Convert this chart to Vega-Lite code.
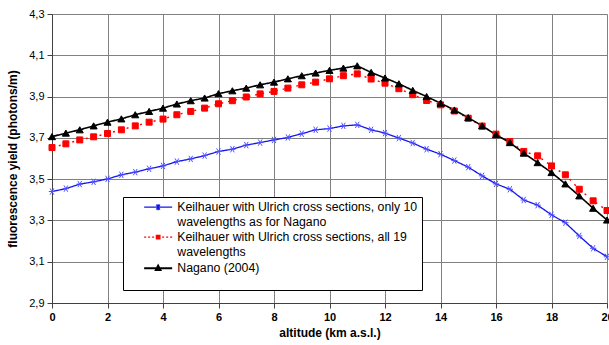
{
  "$schema": "https://vega.github.io/schema/vega-lite/v6.json",
  "autosize": "none",
  "width": 555,
  "height": 289,
  "padding": {"left": 52, "top": 14, "right": 2, "bottom": 42},
  "background": "white",
  "config": {
    "view": {"stroke": null},
    "font": "Liberation Sans"
  },
  "data": {"values": [
    {"alt": 0, "series": "K10", "y": 3.440}, {"alt": 0.5, "series": "K10", "y": 3.454}, {"alt": 1, "series": "K10", "y": 3.476}, {"alt": 1.5, "series": "K10", "y": 3.487}, {"alt": 2, "series": "K10", "y": 3.501}, {"alt": 2.5, "series": "K10", "y": 3.521}, {"alt": 3, "series": "K10", "y": 3.534}, {"alt": 3.5, "series": "K10", "y": 3.550}, {"alt": 4, "series": "K10", "y": 3.564}, {"alt": 4.5, "series": "K10", "y": 3.585}, {"alt": 5, "series": "K10", "y": 3.598}, {"alt": 5.5, "series": "K10", "y": 3.614}, {"alt": 6, "series": "K10", "y": 3.634}, {"alt": 6.5, "series": "K10", "y": 3.645}, {"alt": 7, "series": "K10", "y": 3.665}, {"alt": 7.5, "series": "K10", "y": 3.677}, {"alt": 8, "series": "K10", "y": 3.690}, {"alt": 8.5, "series": "K10", "y": 3.702}, {"alt": 9, "series": "K10", "y": 3.720}, {"alt": 9.5, "series": "K10", "y": 3.739}, {"alt": 10, "series": "K10", "y": 3.745}, {"alt": 10.5, "series": "K10", "y": 3.758}, {"alt": 11, "series": "K10", "y": 3.763}, {"alt": 11.5, "series": "K10", "y": 3.739}, {"alt": 12, "series": "K10", "y": 3.723}, {"alt": 12.5, "series": "K10", "y": 3.699}, {"alt": 13, "series": "K10", "y": 3.675}, {"alt": 13.5, "series": "K10", "y": 3.645}, {"alt": 14, "series": "K10", "y": 3.621}, {"alt": 14.5, "series": "K10", "y": 3.590}, {"alt": 15, "series": "K10", "y": 3.558}, {"alt": 15.5, "series": "K10", "y": 3.516}, {"alt": 16, "series": "K10", "y": 3.477}, {"alt": 16.5, "series": "K10", "y": 3.451}, {"alt": 17, "series": "K10", "y": 3.399}, {"alt": 17.5, "series": "K10", "y": 3.374}, {"alt": 18, "series": "K10", "y": 3.327}, {"alt": 18.5, "series": "K10", "y": 3.289}, {"alt": 19, "series": "K10", "y": 3.225}, {"alt": 19.5, "series": "K10", "y": 3.165}, {"alt": 20, "series": "K10", "y": 3.124},
    {"alt": 0, "series": "K19", "y": 3.653}, {"alt": 0.5, "series": "K19", "y": 3.671}, {"alt": 1, "series": "K19", "y": 3.690}, {"alt": 1.5, "series": "K19", "y": 3.705}, {"alt": 2, "series": "K19", "y": 3.721}, {"alt": 2.5, "series": "K19", "y": 3.739}, {"alt": 3, "series": "K19", "y": 3.758}, {"alt": 3.5, "series": "K19", "y": 3.776}, {"alt": 4, "series": "K19", "y": 3.791}, {"alt": 4.5, "series": "K19", "y": 3.812}, {"alt": 5, "series": "K19", "y": 3.828}, {"alt": 5.5, "series": "K19", "y": 3.844}, {"alt": 6, "series": "K19", "y": 3.865}, {"alt": 6.5, "series": "K19", "y": 3.880}, {"alt": 7, "series": "K19", "y": 3.898}, {"alt": 7.5, "series": "K19", "y": 3.913}, {"alt": 8, "series": "K19", "y": 3.925}, {"alt": 8.5, "series": "K19", "y": 3.941}, {"alt": 9, "series": "K19", "y": 3.957}, {"alt": 9.5, "series": "K19", "y": 3.970}, {"alt": 10, "series": "K19", "y": 3.986}, {"alt": 10.5, "series": "K19", "y": 4.001}, {"alt": 11, "series": "K19", "y": 4.010}, {"alt": 11.5, "series": "K19", "y": 3.985}, {"alt": 12, "series": "K19", "y": 3.965}, {"alt": 12.5, "series": "K19", "y": 3.938}, {"alt": 13, "series": "K19", "y": 3.909}, {"alt": 13.5, "series": "K19", "y": 3.881}, {"alt": 14, "series": "K19", "y": 3.860}, {"alt": 14.5, "series": "K19", "y": 3.830}, {"alt": 15, "series": "K19", "y": 3.795}, {"alt": 15.5, "series": "K19", "y": 3.757}, {"alt": 16, "series": "K19", "y": 3.718}, {"alt": 16.5, "series": "K19", "y": 3.682}, {"alt": 17, "series": "K19", "y": 3.634}, {"alt": 17.5, "series": "K19", "y": 3.613}, {"alt": 18, "series": "K19", "y": 3.564}, {"alt": 18.5, "series": "K19", "y": 3.521}, {"alt": 19, "series": "K19", "y": 3.451}, {"alt": 19.5, "series": "K19", "y": 3.395}, {"alt": 20, "series": "K19", "y": 3.348},
    {"alt": 0, "series": "Nagano", "y": 3.706}, {"alt": 0.5, "series": "Nagano", "y": 3.723}, {"alt": 1, "series": "Nagano", "y": 3.739}, {"alt": 1.5, "series": "Nagano", "y": 3.758}, {"alt": 2, "series": "Nagano", "y": 3.776}, {"alt": 2.5, "series": "Nagano", "y": 3.792}, {"alt": 3, "series": "Nagano", "y": 3.812}, {"alt": 3.5, "series": "Nagano", "y": 3.828}, {"alt": 4, "series": "Nagano", "y": 3.844}, {"alt": 4.5, "series": "Nagano", "y": 3.864}, {"alt": 5, "series": "Nagano", "y": 3.880}, {"alt": 5.5, "series": "Nagano", "y": 3.893}, {"alt": 6, "series": "Nagano", "y": 3.914}, {"alt": 6.5, "series": "Nagano", "y": 3.928}, {"alt": 7, "series": "Nagano", "y": 3.941}, {"alt": 7.5, "series": "Nagano", "y": 3.957}, {"alt": 8, "series": "Nagano", "y": 3.970}, {"alt": 8.5, "series": "Nagano", "y": 3.986}, {"alt": 9, "series": "Nagano", "y": 4.001}, {"alt": 9.5, "series": "Nagano", "y": 4.014}, {"alt": 10, "series": "Nagano", "y": 4.027}, {"alt": 10.5, "series": "Nagano", "y": 4.038}, {"alt": 11, "series": "Nagano", "y": 4.049}, {"alt": 11.5, "series": "Nagano", "y": 4.017}, {"alt": 12, "series": "Nagano", "y": 3.990}, {"alt": 12.5, "series": "Nagano", "y": 3.962}, {"alt": 13, "series": "Nagano", "y": 3.930}, {"alt": 13.5, "series": "Nagano", "y": 3.900}, {"alt": 14, "series": "Nagano", "y": 3.868}, {"alt": 14.5, "series": "Nagano", "y": 3.835}, {"alt": 15, "series": "Nagano", "y": 3.798}, {"alt": 15.5, "series": "Nagano", "y": 3.758}, {"alt": 16, "series": "Nagano", "y": 3.715}, {"alt": 16.5, "series": "Nagano", "y": 3.677}, {"alt": 17, "series": "Nagano", "y": 3.626}, {"alt": 17.5, "series": "Nagano", "y": 3.580}, {"alt": 18, "series": "Nagano", "y": 3.532}, {"alt": 18.5, "series": "Nagano", "y": 3.477}, {"alt": 19, "series": "Nagano", "y": 3.419}, {"alt": 19.5, "series": "Nagano", "y": 3.359}, {"alt": 20, "series": "Nagano", "y": 3.302}
  ]},
  "encoding": {
    "x": {
      "field": "alt", "type": "quantitative",
      "scale": {"domain": [0, 20], "nice": false, "zero": false},
      "axis": {
        "title": "altitude (km a.s.l.)", "values": [0, 2, 4, 6, 8, 10, 12, 14, 16, 18, 20],
        "grid": true, "gridColor": "#808080", "gridOpacity": 1, "gridWidth": 1,
        "domainColor": "#404040", "domainWidth": 1, "tickColor": "#404040", "tickSize": 5,
        "labelFont": "Liberation Sans", "labelFontSize": 11, "labelFontWeight": "bold", "labelColor": "#000000",
        "labelPadding": 3, "labelFlush": false, "labelOverlap": false,
        "titleFont": "Liberation Sans", "titleFontSize": 12, "titleFontWeight": "bold", "titleColor": "#000000", "titlePadding": 5
      }
    },
    "y": {
      "field": "y", "type": "quantitative",
      "scale": {"domain": [2.9, 4.3], "nice": false, "zero": false},
      "axis": {
        "title": "fluorescence yield (photons/m)", "values": [2.9, 3.1, 3.3, 3.5, 3.7, 3.9, 4.1, 4.3],
        "labelExpr": "replace(format(datum.value, '.1f'), '.', ',')",
        "grid": true, "gridColor": "#808080", "gridOpacity": 1, "gridWidth": 1,
        "domainColor": "#404040", "domainWidth": 1, "tickColor": "#404040", "tickSize": 5,
        "labelFont": "Liberation Sans", "labelFontSize": 11, "labelColor": "#000000", "labelPadding": 3, "labelFlush": false,
        "titleFont": "Liberation Sans", "titleFontSize": 12, "titleFontWeight": "bold", "titleColor": "#000000", "titlePadding": 9
      }
    }
  },
  "layer": [
    {
      "mark": {"type": "line", "clip": true},
      "encoding": {
        "color": {
          "field": "series", "type": "nominal",
          "scale": {"domain": ["K10", "K10b", "K19", "K19b", "Nagano"], "range": ["#1414f0", "#ffffff", "#ff0000", "#ffffff", "#000000"]},
          "legend": {
            "orient": "none", "legendX": 71, "legendY": 183,
            "values": ["K10", "K10b", "K19", "K19b", "Nagano"],
            "title": "\u00a0", "titleOrient": "bottom", "titleFontSize": 12, "titlePadding": 1,
            "fillColor": "white", "strokeColor": "#000000", "padding": 4,
            "symbolType": "M-1,0H1", "symbolSize": 100, "symbolOffset": 25, "labelOffset": 13, "rowPadding": 2,
            "symbolStrokeWidth": 1.5,
            "labelFont": "Liberation Sans", "labelFontSize": 12.3, "labelColor": "#000000", "labelLimit": 400,
            "labelExpr": "datum.value == 'K10' ? 'Keilhauer with Ulrich cross sections, only 10\u00a0\u00a0\u00a0\u00a0' : datum.value == 'K10b' ? 'wavelengths as for Nagano' : datum.value == 'K19' ? 'Keilhauer with Ulrich cross sections, all 19' : datum.value == 'K19b' ? 'wavelengths' : 'Nagano (2004)'",
            "encode": {
              "symbols": {"update": {
                "shape": {"signal": "datum.value == 'K10' ? 'M-2.8,0H2.8M-0.35,-0.5L0.35,0.5M-0.35,0.5L0.35,-0.5M0,-0.6V0.6' : datum.value == 'K19' ? 'M-2.8,0H-2.4M-2,0H-1.6M-1.2,0H-0.8M-0.35,-0.35H0.35V0.35H-0.35ZM0.8,0H1.2M1.6,0H2M2.4,0H2.8' : 'M-2.8,0H2.8M0,-0.5L0.45,0.35H-0.45Z'"},
                "fill": {"signal": "datum.value == 'K19' ? '#ff0000' : datum.value == 'Nagano' ? '#000000' : 'transparent'"},
                "stroke": {"signal": "datum.value == 'K10' ? '#1414f0' : datum.value == 'K19' ? '#ff0000' : '#000000'"},
                "strokeWidth": {"signal": "datum.value == 'Nagano' ? 2 : 1.3"},
                "strokeDash": {"value": []},
                "opacity": {"signal": "datum.value == 'K10b' || datum.value == 'K19b' ? 0 : 1"}
              }}
            }
          }
        },
        "strokeDash": {
          "field": "series", "type": "nominal",
          "scale": {"domain": ["K10", "K19", "Nagano"], "range": [[1, 0], [2, 5], [1, 0]]},
          "legend": null
        },
        "strokeWidth": {
          "field": "series", "type": "nominal",
          "scale": {"domain": ["K10", "K19", "Nagano"], "range": [1.3, 1.6, 2]},
          "legend": null
        }
      }
    },
    {
      "mark": {"type": "point", "filled": true, "opacity": 1, "strokeWidth": 1},
      "encoding": {
        "color": {"condition": [{"test": "datum.series == 'K10'", "value": "transparent"}, {"test": "datum.series == 'K19'", "value": "#ff0000"}], "value": "#000000"},
        "stroke": {"condition": [{"test": "datum.series == 'K10'", "value": "#5050ff"}, {"test": "datum.series == 'K19'", "value": "#ff0000"}], "value": "#000000"},
        "shape": {"condition": [{"test": "datum.series == 'K10'", "value": "M-1,0H1M-0.6,-1L0.6,1M-0.6,1L0.6,-1"}, {"test": "datum.series == 'K19'", "value": "square"}], "value": "triangle-up"},
        "size": {"condition": [{"test": "datum.series == 'K10'", "value": 40}, {"test": "datum.series == 'K19'", "value": 36}], "value": 50}
      }
    }
  ]
}
